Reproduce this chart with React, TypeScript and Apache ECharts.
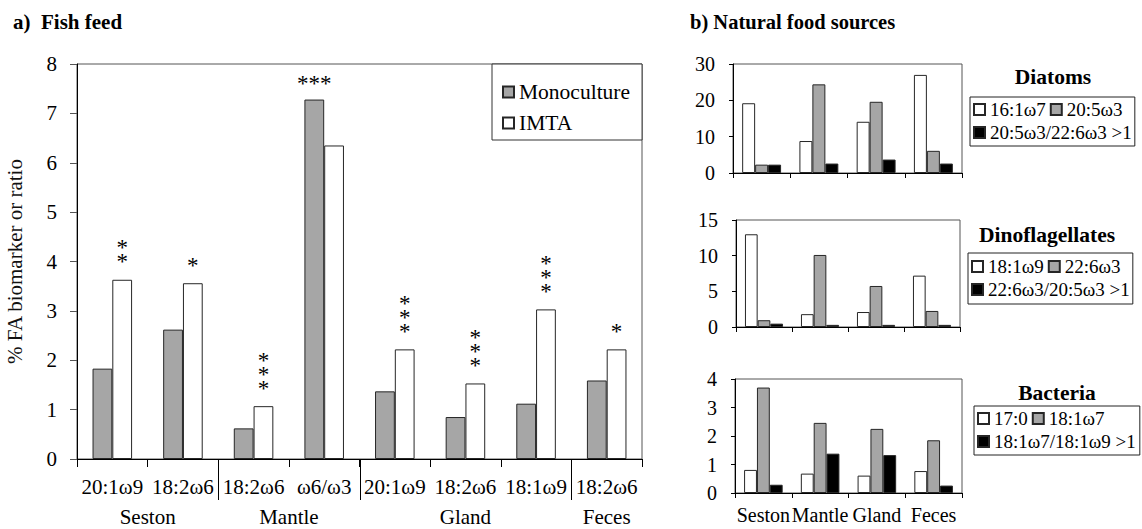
import React, { useEffect, useRef } from 'react';
import * as echarts from 'echarts';

// ---------- data: a) Fish feed ----------
const feedCategories = ['20:1ω9', '18:2ω6', '18:2ω6', 'ω6/ω3', '20:1ω9', '18:2ω6', '18:1ω9', '18:2ω6'];
const feedGroups = ['Seston', 'Mantle', 'Gland', 'Feces'];
const feedGroupStart = [0, 2, 4, 7];
const feedGroupEnd = [1, 3, 6, 7];
const monoculture = [1.83, 2.62, 0.62, 7.28, 1.37, 0.85, 1.12, 1.59];
const imta = [3.63, 3.56, 1.07, 6.35, 2.22, 1.53, 3.03, 2.22];
const imtaStars = ['**', '*', '***', '', '***', '***', '***', '*'];
const monoStars = ['', '', '', '***', '', '', '', ''];
const feedYTicks = { min: 0, max: 8, interval: 1 };

// ---------- data: b) Natural food sources ----------
const sites = ['Seston', 'Mantle', 'Gland', 'Feces'];

const diatomNames = ['16:1ω7', '20:5ω3', '20:5ω3/22:6ω3 >1'];
const diatom161w7 = [19.2, 8.8, 14.1, 27.0];
const diatom205w3 = [2.3, 24.4, 19.6, 6.1];
const diatomRatio = [2.3, 2.6, 3.7, 2.6];

const dinoNames = ['18:1ω9', '22:6ω3', '22:6ω3/20:5ω3 >1'];
const dino181w9 = [13.0, 1.8, 2.1, 7.2];
const dino226w3 = [0.95, 10.1, 5.75, 2.25];
const dinoRatio = [0.47, 0.3, 0.3, 0.3];

const bactNames = ['17:0', '18:1ω7', '18:1ω7/18:1ω9 >1'];
const bact170 = [0.81, 0.68, 0.61, 0.77];
const bact181w7 = [3.7, 2.46, 2.25, 1.85];
const bactRatio = [0.29, 1.38, 1.33, 0.26];

const FONT = 'Liberation Serif';
const GRAY = '#a6a6a6';
const EDGE = '#262626';
const FILLS = ['#ffffff', GRAY, '#000000'];

const panels = [
  {
    title: 'Diatoms', names: diatomNames, values: [diatom161w7, diatom205w3, diatomRatio],
    max: 30, interval: 10, showLabels: false,
    grid: { left: 733, top: 64, width: 229, height: 109 },
    legend: { left: 970, top: 97, padding: [3, 3, 4, 3] },
    titleXY: [1053, 77],
  },
  {
    title: 'Dinoflagellates', names: dinoNames, values: [dino181w9, dino226w3, dinoRatio],
    max: 15, interval: 5, showLabels: false,
    grid: { left: 736, top: 220, width: 224, height: 107 },
    legend: { left: 968, top: 253, padding: [4, 3, 5, 3] },
    titleXY: [1047, 235],
  },
  {
    title: 'Bacteria', names: bactNames, values: [bact170, bact181w7, bactRatio],
    max: 4, interval: 1, showLabels: true,
    grid: { left: 735, top: 379, width: 227, height: 114 },
    legend: { left: 974, top: 406, padding: [3, 4, 4, 3] },
    titleXY: [1057, 393],
  },
];

function starLabel(s: string, vertical: boolean) {
  if (!s) return { show: false };
  return {
    show: true,
    position: 'top',
    distance: vertical ? 11 : 9,
    formatter: vertical ? s.split('').join('\n') : s,
    fontFamily: FONT,
    fontSize: 23,
    lineHeight: 14,
    color: '#000',
  };
}

function buildOption(): any {
  const grids: any[] = [
    { left: 77, top: 64, width: 565, height: 395, show: true, borderColor: '#555', borderWidth: 1 },
  ];
  const xAxes: any[] = [
    {
      type: 'category', gridIndex: 0, data: feedCategories,
      axisLine: { show: true, lineStyle: { color: '#000', width: 1 } },
      axisTick: { show: true, inside: false, length: 8, lineStyle: { color: '#000' } },
      axisLabel: { fontFamily: FONT, color: '#000', fontSize: 21, margin: 17, interval: 0 },
    },
  ];
  const yAxes: any[] = [
    {
      type: 'value', gridIndex: 0, min: feedYTicks.min, max: feedYTicks.max, interval: feedYTicks.interval,
      name: '% FA biomarker or ratio', nameLocation: 'middle', nameRotate: 90, nameGap: 52,
      nameTextStyle: { fontFamily: FONT, fontSize: 21, color: '#111' },
      axisLine: { show: true, lineStyle: { color: '#000', width: 1 } },
      axisTick: { show: true, inside: false, length: 7, lineStyle: { color: '#555' } },
      axisLabel: { fontFamily: FONT, color: '#000', fontSize: 21, margin: 20 },
      splitLine: { show: false },
    },
  ];
  const series: any[] = [
    {
      name: 'Monoculture', type: 'bar', xAxisIndex: 0, yAxisIndex: 0,
      barGap: '0%', barCategoryGap: '44%',
      itemStyle: { color: GRAY, borderColor: EDGE, borderWidth: 1 },
      data: monoculture.map((v, i) => ({ value: v, label: starLabel(monoStars[i], false) })),
    },
    {
      name: 'IMTA', type: 'bar', xAxisIndex: 0, yAxisIndex: 0,
      barGap: '0%', barCategoryGap: '44%',
      itemStyle: { color: '#ffffff', borderColor: EDGE, borderWidth: 1 },
      data: imta.map((v, i) => ({ value: v, label: starLabel(imtaStars[i], true) })),
    },
  ];
  const legends: any[] = [
    {
      data: ['Monoculture', 'IMTA'], orient: 'vertical', left: 492, top: 64,
      padding: [17, 12, 6, 10], itemGap: 9, itemWidth: 11, itemHeight: 11, icon: 'rect',
      borderColor: '#333', borderWidth: 1, backgroundColor: '#fff',
      textStyle: { fontFamily: FONT, fontSize: 21.5, color: '#000' },
    },
  ];

  panels.forEach((p, k) => {
    const idx = k + 1;
    grids.push({ ...p.grid, show: true, borderColor: '#555', borderWidth: 1 });
    xAxes.push({
      type: 'category', gridIndex: idx, data: sites,
      axisLine: { show: true, lineStyle: { color: '#000', width: 1 } },
      axisTick: { show: true, inside: false, length: 5, lineStyle: { color: '#000' } },
      axisLabel: { show: p.showLabels, fontFamily: FONT, color: '#000', fontSize: 20, margin: 12, interval: 0 },
    });
    yAxes.push({
      type: 'value', gridIndex: idx, min: 0, max: p.max, interval: p.interval,
      axisLine: { show: true, lineStyle: { color: '#000', width: 1 } },
      axisTick: { show: true, inside: false, length: 4, lineStyle: { color: '#000' } },
      axisLabel: { fontFamily: FONT, color: '#000', fontSize: 20, margin: 18 },
      splitLine: { show: false },
    });
    p.names.forEach((n, j) => {
      series.push({
        name: n, type: 'bar', xAxisIndex: idx, yAxisIndex: idx,
        barGap: '0%', barCategoryGap: '32%',
        itemStyle: { color: FILLS[j], borderColor: EDGE, borderWidth: 1 },
        data: p.values[j],
      });
    });
    legends.push({
      data: p.names, orient: 'horizontal', left: p.legend.left, top: p.legend.top, width: 160,
      padding: p.legend.padding, itemGap: 4, itemWidth: 11, itemHeight: 11, icon: 'rect',
      borderColor: '#222', borderWidth: 1, backgroundColor: '#fff',
      textStyle: { fontFamily: FONT, fontSize: 19, color: '#000' },
    });
  });

  return {
    animation: false,
    backgroundColor: '#ffffff',
    grid: grids,
    xAxis: xAxes,
    yAxis: yAxes,
    legend: legends,
    series,
  };
}

export default function App() {
  const ref = useRef<HTMLDivElement>(null);
  useEffect(() => {
    if (!ref.current) return;
    const chart = echarts.init(ref.current, null, { renderer: 'svg' });
    chart.setOption(buildOption());

    const px = (i: number) => chart.convertToPixel({ xAxisIndex: 0 }, i) as number;
    const y0 = chart.convertToPixel({ yAxisIndex: 0 }, 0) as number;
    const graphics: any[] = [];
    feedGroupEnd.slice(0, 3).forEach((e) => {
      const x = Math.round((px(e) + px(e + 1)) / 2) + 0.5;
      graphics.push({
        type: 'line', shape: { x1: x, y1: y0, x2: x, y2: y0 + 41 },
        style: { stroke: '#000', lineWidth: 1 }, silent: true,
      });
    });
    feedGroups.forEach((g, i) => {
      const cx = (px(feedGroupStart[i]) + px(feedGroupEnd[i])) / 2;
      graphics.push({
        type: 'text', x: cx, y: y0 + 58,
        style: { text: g, fontFamily: FONT, fontSize: 21, fill: '#000', align: 'center', verticalAlign: 'middle' },
        silent: true,
      });
    });
    graphics.push({
      type: 'text', x: 13, y: 22,
      style: { text: 'a)  Fish feed', fontFamily: FONT, fontSize: 21, fontWeight: 'bold', fill: '#000', align: 'left', verticalAlign: 'middle' },
    });
    graphics.push({
      type: 'text', x: 690, y: 22,
      style: { text: 'b) Natural food sources', fontFamily: FONT, fontSize: 20.5, fontWeight: 'bold', fill: '#000', align: 'left', verticalAlign: 'middle' },
    });
    panels.forEach((p) => {
      graphics.push({
        type: 'text', x: p.titleXY[0], y: p.titleXY[1],
        style: { text: p.title, fontFamily: FONT, fontSize: 21.5, fontWeight: 'bold', fill: '#000', align: 'center', verticalAlign: 'middle' },
      });
    });
    chart.setOption({ graphic: graphics });
    return () => chart.dispose();
  }, []);
  return <div ref={ref} style={{ position: 'fixed', left: 0, top: 0, width: 1142, height: 529 }} />;
}
